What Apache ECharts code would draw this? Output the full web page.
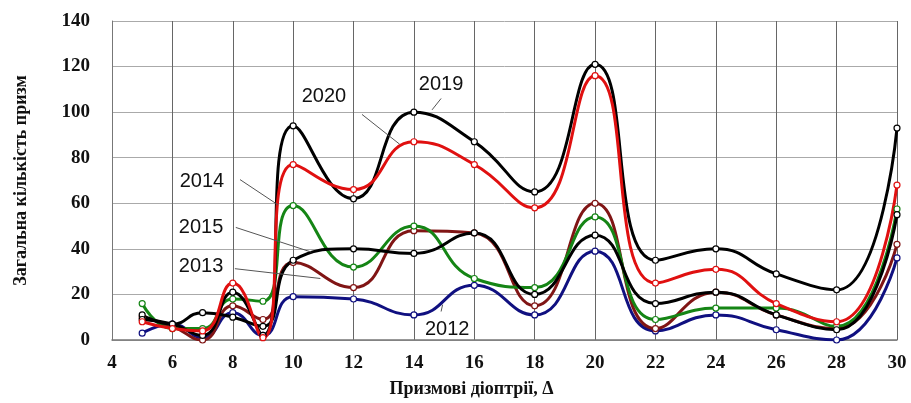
<!DOCTYPE html>
<html>
<head>
<meta charset="utf-8">
<script src="https://cdn.jsdelivr.net/npm/echarts@6/dist/echarts.min.js"></script>
<style>
  html, body { margin: 0; padding: 0; background: #fff; }
  #chart { width: 911px; height: 403px; }
</style>
</head>
<body>
<div id="chart"></div>
<script>
// призмові діоптрії
var dioptres = [5, 6, 7, 8, 9, 10, 12, 14, 16, 18, 20, 22, 24, 26, 28, 30]

var y2012 = [3, 7, 1, 12, 2, 19, 18, 11, 24, 11, 39, 4, 11, 4.5, 0, 36]
var y2013 = [10, 6, 0, 15, 9, 34, 23, 48, 47, 15, 60, 5, 21, 11, 5, 42]
var y2014 = [16, 5, 5, 18, 17, 59, 32, 50, 27, 23, 54, 9, 14, 14, 6, 57.5]
var y2015 = [11, 7, 12, 10, 6, 35, 40, 38, 47, 20, 46, 16, 21, 11, 4.5, 55]
var y2019 = [9, 7, 2, 21, 2, 94, 62, 100, 87, 65, 121, 35, 40, 29, 22, 93]
var y2020 = [8, 5, 4, 25, 1, 77, 66, 87, 77, 58, 116, 25, 31, 16, 8, 68]

// label text position and leader line (data coords)
var notes = {
  2012: { text: [15.1, 4.7], line: [[14.95, 15.5], [14.9, 12.5]] },
  2013: { text: [6.95, 32.2], line: [[8.07, 31.3], [10.9, 27]] },
  2014: { text: [6.98, 69.6], line: [[8.24, 70.4], [9.5, 59.3]] },
  2015: { text: [6.95, 49.4], line: [[8.1, 49.4], [10.6, 38.6]] },
  2019: { text: [14.9, 112], line: [[14.9, 106], [14.6, 101]] },
  2020: { text: [11.02, 107], line: [[12.28, 99], [13.53, 85.9]] }
}

function pairs(arr) {
  return arr.map(function(v, i) { return [dioptres[i], v] })
}

function makeSeries(name, arr, color) {
  var n = notes[name]
  return {
    name: name,
    type: 'line',
    smooth: true,
    data: pairs(arr),
    symbol: 'circle',
    symbolSize: 6,
    itemStyle: { color: '#fff', borderColor: color, borderWidth: 1.2 },
    lineStyle: { color: color, width: 3 },
    z: 3,
    markLine: {
      silent: true,
      symbol: ['none', 'none'],
      animation: false,
      label: { show: false },
      lineStyle: { color: '#555', width: 1, type: 'solid' },
      data: [[{ coord: n.line[0] }, { coord: n.line[1] }]]
    },
    markPoint: {
      silent: true,
      symbol: 'circle',
      symbolSize: 0,
      animation: false,
      label: {
        show: true,
        position: 'inside',
        formatter: name,
        color: '#111',
        fontFamily: 'Liberation Sans, Arial, sans-serif',
        fontSize: 20
      },
      data: [{ coord: n.text }]
    }
  }
}

var chart = echarts.init(document.getElementById('chart'))
chart.setOption({
  animation: false,
  grid: { left: 112, right: 14, top: 21, bottom: 56 },
  xAxis: {
    type: 'value',
    min: 4,
    max: 30,
    interval: 2,
    name: 'Призмові діоптрії, Δ',
    nameLocation: 'middle',
    nameGap: 40,
    nameTextStyle: {
      fontFamily: 'Liberation Serif, Times New Roman',
      fontWeight: 'bold',
      fontSize: 18,
      color: '#111',
      padding: [0, 66, 0, 0]
    },
    axisLine: { lineStyle: { color: '#777', width: 1.5 } },
    axisTick: { show: false },
    axisLabel: {
      margin: 14,
      fontFamily: 'Liberation Serif, Times New Roman',
      fontWeight: 'bold',
      fontSize: 19,
      color: '#111'
    },
    splitLine: { show: true, lineStyle: { color: '#666', width: 1 } }
  },
  yAxis: {
    type: 'value',
    min: 0,
    max: 140,
    interval: 20,
    name: 'Загальна кількість призм',
    nameLocation: 'middle',
    nameGap: 82,
    nameTextStyle: {
      fontFamily: 'Liberation Serif, Times New Roman',
      fontWeight: 'bold',
      fontSize: 18,
      color: '#111'
    },
    axisLine: { show: true, lineStyle: { color: '#777', width: 1 } },
    axisTick: { show: false },
    axisLabel: {
      margin: 22,
      fontFamily: 'Liberation Serif, Times New Roman',
      fontWeight: 'bold',
      fontSize: 19,
      color: '#111'
    },
    splitLine: { show: true, lineStyle: { color: '#aaa', width: 1 } }
  },
  series: [
    makeSeries('2012', y2012, '#101080'),
    makeSeries('2013', y2013, '#801515'),
    makeSeries('2014', y2014, '#158515'),
    makeSeries('2015', y2015, '#000000'),
    makeSeries('2019', y2019, '#000000'),
    makeSeries('2020', y2020, '#e01010')
  ]
})
</script>
</body>
</html>
